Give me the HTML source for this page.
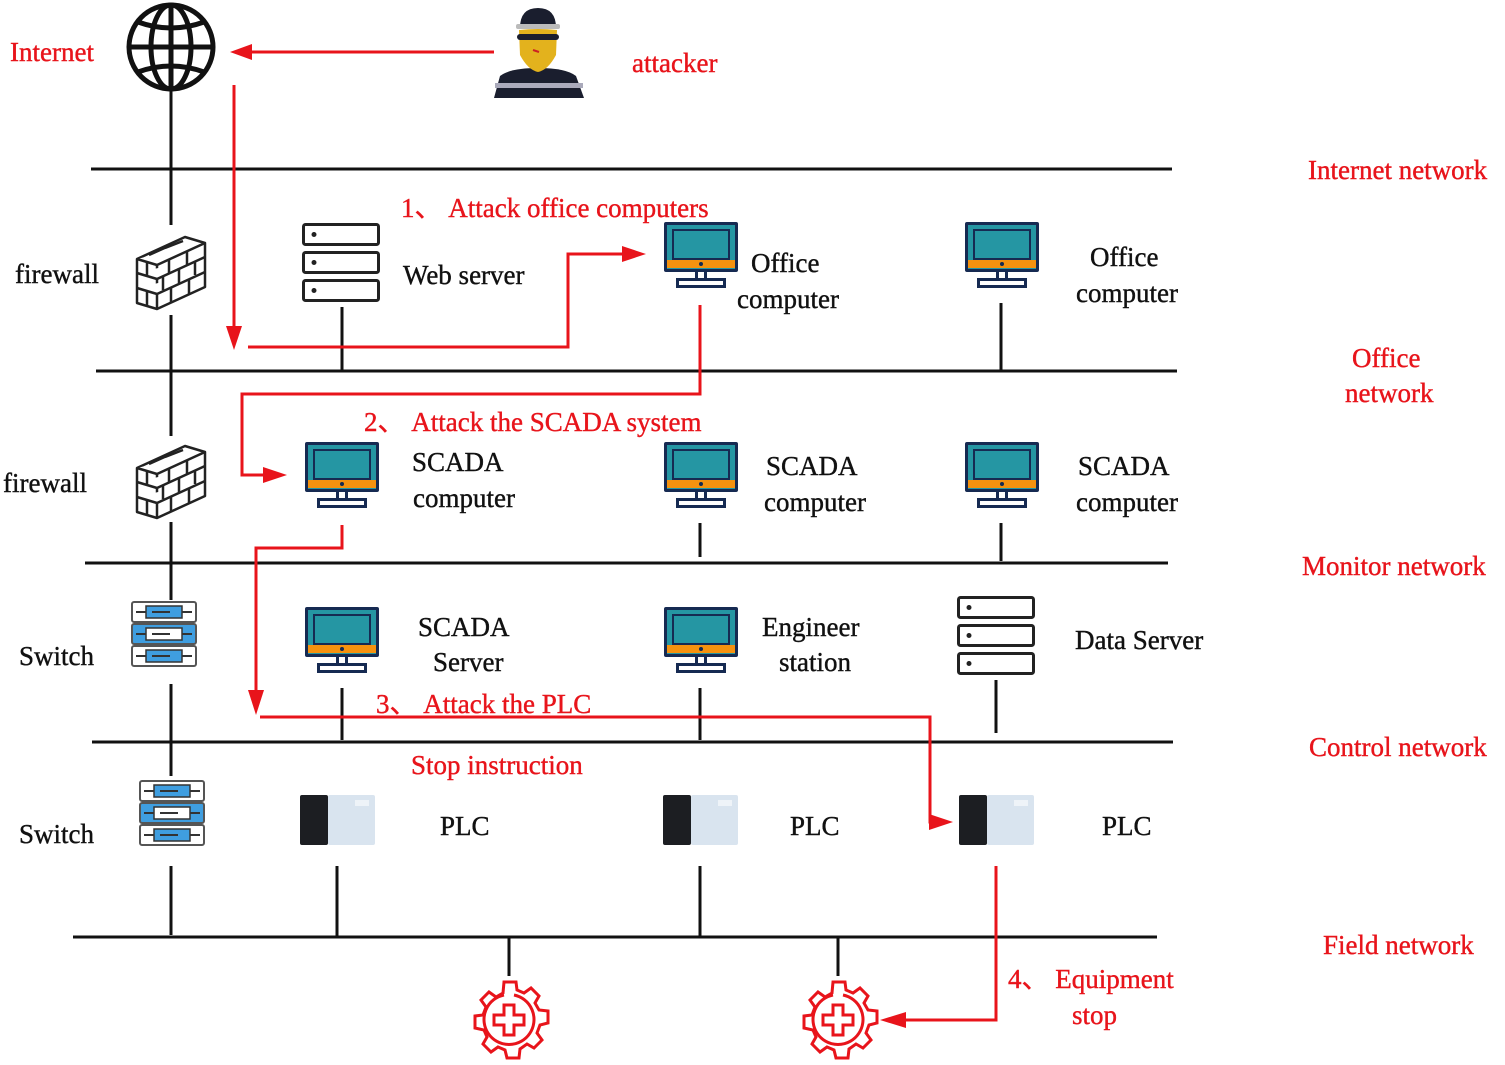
<!DOCTYPE html>
<html><head><meta charset="utf-8"><style>
html,body{margin:0;padding:0;background:#fff;}
svg{display:block}
text{font-family:"Liberation Serif",serif;font-size:27px;stroke-width:0.4px;}
.r{fill:#e8141b;stroke:#e8141b}
.k{fill:#111;stroke:#111}
</style></head><body>
<svg width="1505" height="1065" viewBox="0 0 1505 1065" xmlns="http://www.w3.org/2000/svg">
<defs>
<g id="mon">
<rect x="0" y="0" width="74" height="50" rx="2" fill="#162a52"/>
<rect x="3" y="3" width="68" height="44" fill="#2596a3"/>
<rect x="8" y="7" width="58" height="31" fill="#162a52"/>
<rect x="10" y="9" width="54" height="27" fill="#2596a3"/>
<rect x="3" y="38" width="68" height="8" fill="#f5920f"/>
<circle cx="37" cy="42" r="2" fill="#162a52"/>
<rect x="31" y="50" width="12" height="7" fill="#162a52"/><rect x="34" y="50" width="6" height="6" fill="#fff"/>
<rect x="12" y="56" width="50" height="10" fill="#162a52"/><rect x="15" y="59" width="44" height="4" fill="#fff"/>
</g>
<g id="srv" fill="#fff" stroke="#222" stroke-width="3">
<rect x="1.5" y="1.5" width="75" height="20" rx="2"/>
<rect x="1.5" y="29.5" width="75" height="20" rx="2"/>
<rect x="1.5" y="57.5" width="75" height="20" rx="2"/>
<circle cx="12" cy="11.5" r="2.5" fill="#222" stroke="none"/>
<circle cx="12" cy="39.5" r="2.5" fill="#222" stroke="none"/>
<circle cx="12" cy="67.5" r="2.5" fill="#222" stroke="none"/>
</g>
<g id="sw">
<rect x="2" y="2" width="64" height="20" rx="2" fill="#fff" stroke="#555" stroke-width="2"/>
<rect x="2" y="46" width="64" height="20" rx="2" fill="#fff" stroke="#555" stroke-width="2"/>
<rect x="2" y="24" width="64" height="20" rx="2" fill="#3f9ee0" stroke="#555" stroke-width="2"/>
<rect x="16" y="6" width="36" height="12" fill="#3f9ee0" stroke="#333" stroke-width="1.5"/>
<rect x="16" y="28" width="36" height="12" fill="#fff" stroke="#333" stroke-width="1.5"/>
<rect x="16" y="50" width="36" height="12" fill="#3f9ee0" stroke="#333" stroke-width="1.5"/>
<path d="M6 12h10M52 12h10M6 34h10M52 34h10M6 56h10M52 56h10M22 12h18M22 34h18M22 56h18" stroke="#333" stroke-width="2"/>
</g>
<g id="fw" fill="#fff" stroke="#222" stroke-width="2.5" stroke-linejoin="round">
<path d="M2 30 L50 8 L70 14 L70 58 L22 80 L2 74 Z"/>
<path d="M2 30 L22 36 L70 14 M22 36 L22 80"/>
<path d="M2 44 L22 50 L70 28 M2 59 L22 65 L70 43 M12 33 L12 47 M12 62 L12 77"/>
<path d="M34 30 L34 44 M52 22 L52 36 M28 47 L28 61 M44 39 L44 54 M60 32 L60 46 M36 58 L36 73 M54 50 L54 65 M14 26 L34 17 M30 19 L48 12"/>
</g>
<g id="plc">
<rect x="0" y="0" width="28" height="50" rx="2" fill="#1c1e22"/>
<rect x="28" y="0" width="47" height="50" rx="2" fill="#d9e4ef"/>
<rect x="55" y="5" width="14" height="6" fill="#eef3f8"/>
</g>
<g id="gear" fill="none" stroke="#e8141b" stroke-width="3">
<path d="M-6 -40 L6 -40 L7 -32 L14 -29 L21 -34 L29 -26 L25 -19 L29 -12 L38 -11 L38 1 L30 3 L27 11 L32 18 L24 26 L17 22 L10 27 L9 36 L-3 36 L-5 28 L-12 25 L-19 30 L-27 22 L-23 15 L-26 8 L-35 6 L-35 -6 L-27 -7 L-24 -15 L-29 -22 L-21 -30 L-14 -25 L-7 -29 Z" transform="translate(1,2)"/>
<path d="M-5 -25 A25 25 0 1 0 5 -25" />
<path d="M-5 -15 h10 v10 h10 v10 h-10 v10 h-10 v-10 h-10 v-10 h10 z"/>
</g>
</defs>

<g stroke="#111" stroke-width="3">
<line x1="91" y1="169" x2="1172" y2="169"/>
<line x1="96" y1="371" x2="1177" y2="371"/>
<line x1="85" y1="563" x2="1168" y2="563"/>
<line x1="92" y1="742" x2="1173" y2="742"/>
<line x1="73" y1="937" x2="1157" y2="937"/>
<line x1="171" y1="90" x2="171" y2="225"/>
<line x1="171" y1="315" x2="171" y2="436"/>
<line x1="171" y1="522" x2="171" y2="600"/>
<line x1="171" y1="684" x2="171" y2="776"/>
<line x1="171" y1="866" x2="171" y2="935"/>
<line x1="342" y1="307" x2="342" y2="370"/>
<line x1="1001" y1="303" x2="1001" y2="370"/>
<line x1="700" y1="523" x2="700" y2="557"/>
<line x1="1001" y1="523" x2="1001" y2="561"/>
<line x1="342" y1="688" x2="342" y2="740"/>
<line x1="700" y1="688" x2="700" y2="740"/>
<line x1="996" y1="680" x2="996" y2="733"/>
<line x1="337" y1="866" x2="337" y2="936"/>
<line x1="700" y1="866" x2="700" y2="936"/>
<line x1="509" y1="938" x2="509" y2="976"/>
<line x1="838" y1="938" x2="838" y2="976"/>
</g>

<g fill="none" stroke="#111" stroke-width="5">
<circle cx="171" cy="47" r="42"/>
<ellipse cx="171" cy="47" rx="20" ry="42"/>
<line x1="171" y1="5" x2="171" y2="89"/>
<line x1="129" y1="47" x2="213" y2="47"/>
<path d="M138 22 Q171 34 204 22 M138 72 Q171 60 204 72"/>
</g>

<g>
<path d="M494 98 L500 76 Q510 68 538 68 Q566 68 576 76 L584 98 Z" fill="#1a1e2e"/>
<rect x="495" y="83" width="88" height="5" fill="#aab"/>
<path d="M519 30 Q538 28 557 30 L556 55 Q548 70 538 72 Q528 70 520 55 Z" fill="#e3b21d"/>
<path d="M520 28 Q520 8 538 8 Q556 8 556 28 Z" fill="#1a1e2e"/>
<rect x="516" y="24" width="44" height="5" rx="2" fill="#bbb"/>
<rect x="517" y="34" width="42" height="6" rx="3" fill="#1a1e2e"/>
<path d="M533 50 L539 52" stroke="#c22" stroke-width="2"/>
</g>

<use href="#fw" x="135" y="229"/>
<use href="#fw" x="135" y="438"/>
<use href="#srv" x="302" y="223"/>
<use href="#srv" x="957" y="596"/>
<use href="#sw" x="130" y="600"/>
<use href="#sw" x="138" y="779"/>
<use href="#mon" x="664" y="222"/>
<use href="#mon" x="965" y="222"/>
<use href="#mon" x="305" y="442"/>
<use href="#mon" x="664" y="442"/>
<use href="#mon" x="965" y="442"/>
<use href="#mon" x="305" y="607"/>
<use href="#mon" x="664" y="607"/>
<use href="#plc" x="300" y="795"/>
<use href="#plc" x="663" y="795"/>
<use href="#plc" x="959" y="795"/>
<use href="#gear" x="509" y="1020"/>
<use href="#gear" x="838" y="1020"/>

<g fill="none" stroke="#e8141b" stroke-width="3">
<line x1="494" y1="52" x2="245" y2="52"/>
<line x1="234" y1="85" x2="234" y2="332"/>
<polyline points="248,347 568,347 568,254 628,254"/>
<polyline points="700,305 700,394 242,394 242,475 268,475"/>
<polyline points="342,525 342,548 256,548 256,695"/>
<polyline points="260,717 930,717 930,822 936,822"/>
<polyline points="996,866 996,1020 902,1020"/>
</g>
<g fill="#e8141b">
<polygon points="230,52 252,44 252,60"/>
<polygon points="234,350 226,326 242,326"/>
<polygon points="646,254 622,246 622,262"/>
<polygon points="287,475 263,467 263,483"/>
<polygon points="256,715 248,690 264,690"/>
<polygon points="953,822 929,814 929,830"/>
<polygon points="880,1020 906,1012 906,1028"/>
</g>

<g class="r">
<text x="10" y="61">Internet</text>
<text x="632" y="72">attacker</text>
<text x="1308" y="179">Internet network</text>
<text x="1352" y="367">Office</text>
<text x="1345" y="402">network</text>
<text x="1302" y="575">Monitor  network</text>
<text x="1309" y="756">Control network</text>
<text x="1323" y="954">Field network</text>
<text x="401" y="217">1、 Attack office computers</text>
<text x="364" y="431">2、 Attack the SCADA system</text>
<text x="376" y="713">3、 Attack the PLC</text>
<text x="411" y="774">Stop instruction</text>
<text x="1008" y="988">4、 Equipment</text>
<text x="1072" y="1024">stop</text>
</g>
<g class="k">
<text x="15" y="283">firewall</text>
<text x="3" y="492">firewall</text>
<text x="19" y="665">Switch</text>
<text x="19" y="843">Switch</text>
<text x="403" y="284">Web server</text>
<text x="751" y="272">Office</text>
<text x="737" y="308">computer</text>
<text x="1090" y="266">Office</text>
<text x="1076" y="302">computer</text>
<text x="412" y="471">SCADA</text>
<text x="413" y="507">computer</text>
<text x="766" y="475">SCADA</text>
<text x="764" y="511">computer</text>
<text x="1078" y="475">SCADA</text>
<text x="1076" y="511">computer</text>
<text x="418" y="636">SCADA</text>
<text x="433" y="671">Server</text>
<text x="762" y="636">Engineer</text>
<text x="779" y="671">station</text>
<text x="1075" y="649">Data Server</text>
<text x="440" y="835">PLC</text>
<text x="790" y="835">PLC</text>
<text x="1102" y="835">PLC</text>
</g>
</svg>
</body></html>
